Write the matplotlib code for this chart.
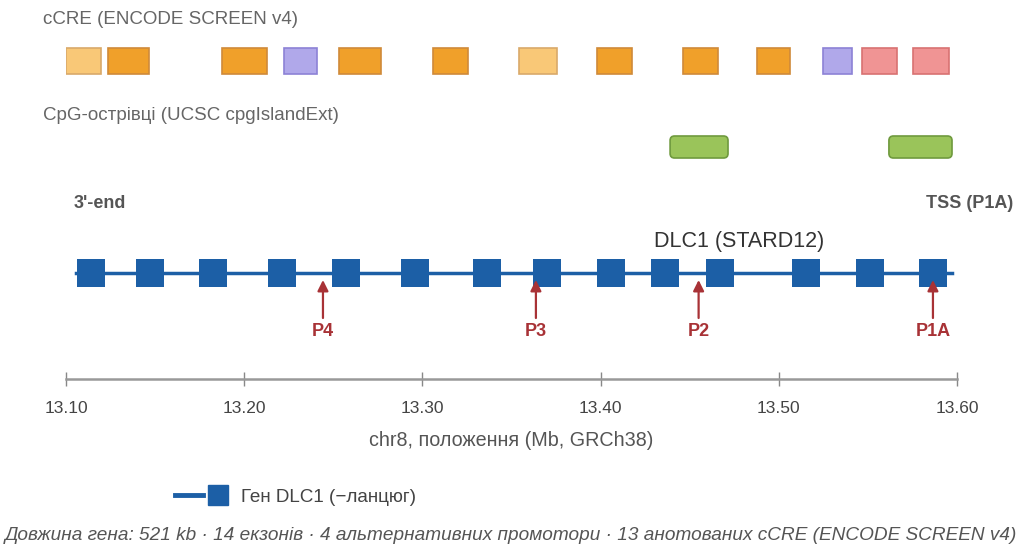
import matplotlib.pyplot as plt
from matplotlib.patches import Rectangle, FancyBboxPatch
from matplotlib.lines import Line2D
from matplotlib.legend_handler import HandlerTuple

plt.rcParams['font.family'] = ['Liberation Sans', 'DejaVu Sans']

# cCRE (ENCODE SCREEN v4): start, end (Mb), type
ccre_start = [13.100, 13.1236, 13.1875, 13.2223, 13.2532, 13.306, 13.3542,
              13.398, 13.4462, 13.4878, 13.5248, 13.5467, 13.5753]
ccre_end = [13.1196, 13.1466, 13.2128, 13.2409, 13.2768, 13.3256, 13.3755,
            13.4176, 13.4659, 13.5063, 13.5411, 13.5663, 13.5955]
ccre_type = ['dELS', 'pELS', 'pELS', 'CTCF', 'pELS', 'pELS', 'dELS',
             'pELS', 'pELS', 'pELS', 'CTCF', 'PLS', 'PLS']
ccre_colors = {'dELS': ('#f9c877', '#d9a96a'), 'pELS': ('#f0a02a', '#cf8a3a'),
               'CTCF': ('#b0a8ea', '#8c82d6'), 'PLS': ('#f09494', '#d87272')}

# CpG islands
cpg_start = [13.439, 13.5618]
cpg_end = [13.4715, 13.5972]

# gene DLC1
gene_start, gene_end = 13.1055, 13.597
exons = [13.114, 13.147, 13.1825, 13.221, 13.257, 13.296, 13.336,
         13.370, 13.406, 13.436, 13.467, 13.515, 13.551, 13.5865]

promoters = ['P4', 'P3', 'P2', 'P1A']
promoter_pos = [13.2442, 13.3637, 13.455, 13.5865]

ticks = [13.10, 13.20, 13.30, 13.40, 13.50, 13.60]

W, H = 1022, 550
PX = 1782  # pixels per Mb
fig = plt.figure(figsize=(W / 100, H / 100), dpi=100)
# axes: x in Mb, y in pixel rows from the top (0) down to the axis line (379)
ax = fig.add_axes([66 / W, 1 - 379 / H, (957 - 66) / W, 379 / H])
ax.set_xlim(13.10, 13.60)
ax.set_ylim(379, 0)

blue = '#1c5fa6'
red = '#a83236'

# track labels
ax.text(13.1 - 23 / PX, 20, 'cCRE (ENCODE SCREEN v4)', fontsize=13.5,
        color='#666666', va='center', ha='left')
ax.text(13.1 - 23 / PX, 116, 'CpG-острівці (UCSC cpgIslandExt)', fontsize=13.5,
        color='#666666', va='center', ha='left')

for s, e, t in zip(ccre_start, ccre_end, ccre_type):
    fc, ec = ccre_colors[t]
    ax.add_patch(Rectangle((s, 48), e - s, 26, facecolor=fc, edgecolor=ec, lw=1.2))

for s, e in zip(cpg_start, cpg_end):
    ax.add_patch(FancyBboxPatch((s, 136), e - s, 22,
                                boxstyle='round,pad=0,rounding_size=0.0025',
                                mutation_aspect=PX, facecolor='#9ac45a',
                                edgecolor='#6f9a3e', lw=1.2))

# gene
ax.text(13.1 + 8 / PX, 203, "3'-end", fontsize=13, fontweight='bold',
        color='#555555', va='center', ha='left')
ax.text(13.6 + 56 / PX, 203, 'TSS (P1A)', fontsize=13, fontweight='bold',
        color='#555555', va='center', ha='right')
ax.text(13.4777, 241, 'DLC1 (STARD12)', fontsize=15.5, color='#333333',
        va='center', ha='center')

ax.plot([gene_start, gene_end], [273, 273], color=blue, lw=2.5, zorder=2)
ax.plot(exons, [273] * len(exons), 's', color=blue, ms=19.5, mew=0, zorder=3)

for name, x in zip(promoters, promoter_pos):
    ax.annotate('', xy=(x, 280), xytext=(x, 318),
                arrowprops=dict(arrowstyle='-|>', color=red, lw=1.6,
                                mutation_scale=16, shrinkA=0, shrinkB=0), zorder=4)
    ax.text(x, 331, name, fontsize=13, fontweight='bold', color=red,
            ha='center', va='center')

# axis
for side in ['top', 'left', 'right']:
    ax.spines[side].set_visible(False)
ax.spines['bottom'].set_color('#999999')
ax.spines['bottom'].set_linewidth(1.8)
ax.set_yticks([])
ax.set_xticks(ticks)
ax.set_xticklabels(['%.2f' % t for t in ticks])
ax.tick_params(axis='x', direction='inout', length=10, width=1, color='#888888',
               labelsize=12.5, labelcolor='#444444', pad=11)
ax.set_xlabel('chr8, положення (Mb, GRCh38)', fontsize=14.2, color='#555555',
              labelpad=11)

# legend
h_line = Line2D([], [], color=blue, lw=3.5)
h_box = Line2D([], [], color=blue, marker='s', ms=14.4, ls='none')
fig.legend([(h_line, h_box)], ['Ген DLC1 (−ланцюг)'],
           handler_map={tuple: HandlerTuple(ndivide=None, pad=0)},
           loc='center left', bbox_to_anchor=(158 / W, 1 - 497 / H),
           frameon=False, fontsize=13.6, handlelength=3.0, handletextpad=0.5,
           labelcolor='#444444')

fig.text(0.5, 1 - 535 / H,
         'Довжина гена: 521 kb · 14 екзонів · 4 альтернативних промотори · '
         '13 анотованих cCRE (ENCODE SCREEN v4)',
         fontsize=13.65, style='italic', color='#555555', ha='center', va='center')

fig.savefig('out.png', dpi=100)
